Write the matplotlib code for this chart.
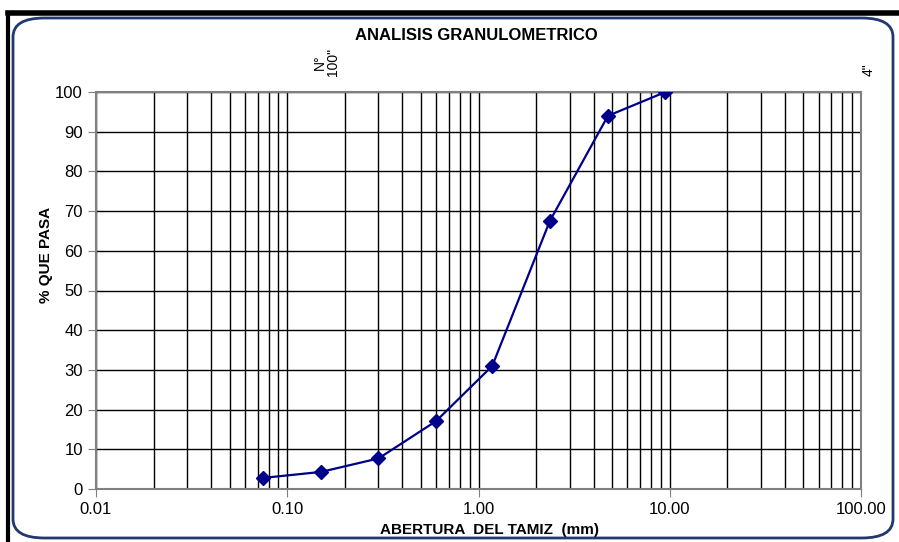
import numpy as np
import matplotlib.pyplot as plt
from matplotlib.patches import FancyBboxPatch
from matplotlib.ticker import FixedLocator, FixedFormatter, NullFormatter

plt.rcParams['font.family'] = ['Liberation Sans', 'DejaVu Sans']

# datos de la curva granulometrica
abertura = [0.075, 0.15, 0.30, 0.60, 1.18, 2.36, 4.75, 9.50]
pasa = [2.8, 4.3, 7.7, 17.1, 31.0, 67.5, 94.0, 100.0]

major_x = [0.01, 0.1, 1, 10, 100]
major_labels = ['0.01', '0.10', '1.00', '10.00', '100.00']
y_ticks = list(range(0, 101, 10))

fig = plt.figure(figsize=(8.99, 5.42), dpi=100)

# marco exterior
fig.add_artist(plt.Line2D([8/899, 8/899], [0, 1 - 13/542], color='black', lw=3, transform=fig.transFigure))
fig.add_artist(plt.Line2D([8/899, 1], [1 - 13/542, 1 - 13/542], color='black', lw=4, transform=fig.transFigure))
box = FancyBboxPatch((13/899, 4/542), 880/899, 520/542,
                     boxstyle="round,pad=0,rounding_size=0.035",
                     transform=fig.transFigure, fill=False,
                     edgecolor='#1f3a6e', lw=2)
fig.add_artist(box)

ax = fig.add_axes([96/899, 1 - 489/542, (861 - 96)/899, (489 - 92)/542])
ax.set_xscale('log')
ax.set_xlim(0.01, 100)
ax.set_ylim(0, 100)

ax.plot(abertura, pasa, color='#00008b', lw=1.6, marker='D', markersize=7, zorder=5)

ax.xaxis.set_major_locator(FixedLocator(major_x))
ax.xaxis.set_major_formatter(FixedFormatter(major_labels))
ax.xaxis.set_minor_formatter(NullFormatter())
ax.set_yticks(y_ticks)

ax.grid(True, which='major', color='black', lw=1)
ax.grid(True, which='minor', axis='x', color='black', lw=1)
ax.tick_params(axis='x', which='minor', length=0)
ax.tick_params(axis='both', which='major', labelsize=12, length=6, color='#808080', direction='out')
for s in ax.spines.values():
    s.set_color('#808080')
    s.set_linewidth(1.5)

ax.set_xlabel('ABERTURA  DEL TAMIZ  (mm)', fontsize=11, fontweight='bold')
ax.xaxis.set_label_coords(0.515, -0.085)
ax.set_ylabel('% QUE PASA', fontsize=11, fontweight='bold')
ax.yaxis.set_label_coords(-0.056, 0.59)

fig.text(0.53, 1 - 35/542, 'ANALISIS GRANULOMETRICO', ha='center', va='center',
         fontsize=12, fontweight='bold')

# tamices en la parte superior
ax.text(0.16, 104, 'N°\n100"', rotation=90, ha='center', va='bottom', fontsize=10, linespacing=0.9)
ax.text(101.6 * 1.08, 104, '4"', rotation=90, ha='center', va='bottom', fontsize=10)

plt.savefig('out.png', dpi=100)
